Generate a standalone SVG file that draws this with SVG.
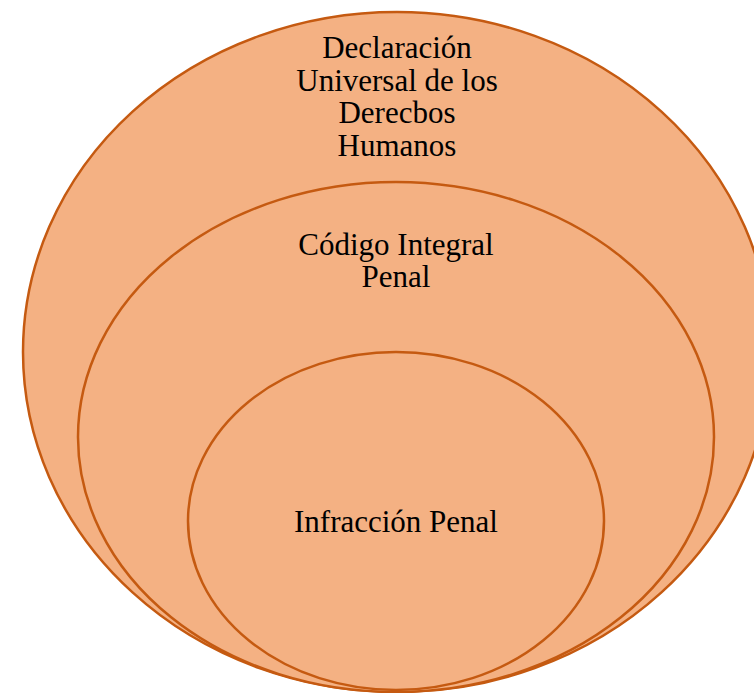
<svg xmlns="http://www.w3.org/2000/svg" width="754" height="693" viewBox="0 0 754 693">
<style>
.e{fill:#F4B183;stroke:#C55A11;stroke-width:2.5}
.t{font-family:"Liberation Serif","Times New Roman",serif;font-size:31px;fill:#000;text-anchor:middle}
</style>
<rect width="754" height="693" fill="#fff"/>
<g id="outer">
<ellipse class="e" cx="397" cy="352" rx="374" ry="340"/>
<text class="t" x="397" y="58">Declaración</text>
<text class="t" x="397" y="90.5">Universal de los</text>
<text class="t" x="397" y="123">Derecbos</text>
<text class="t" x="397" y="155.5">Humanos</text>
</g>
<g id="middle">
<ellipse class="e" cx="396" cy="437" rx="318" ry="255"/>
<text class="t" x="396" y="255">Código Integral</text>
<text class="t" x="396" y="287">Penal</text>
</g>
<g id="inner">
<ellipse class="e" cx="396" cy="521" rx="208" ry="169"/>
<text class="t" x="396" y="531.5">Infracción Penal</text>
</g>
<g id="connectors"/>
</svg>
